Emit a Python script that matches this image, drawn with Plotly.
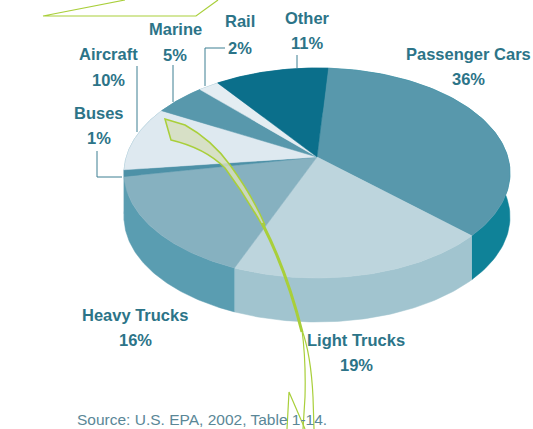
import numpy as np
import plotly.graph_objects as go

# --- data -------------------------------------------------------------
categories = ["Passenger Cars", "Light Trucks", "Heavy Trucks", "Buses",
              "Aircraft", "Marine", "Rail", "Other"]
shares = [36, 19, 16, 1, 10, 5, 2, 11]
source_text = "Source: U.S. EPA, 2002, Table 1-14."

# --- styles -----------------------------------------------------------
top_colors = ["#5898ac", "#bdd5dd", "#86b1c0", "#4d91a7",
              "#dee9f0", "#5898ac", "#e4edf2", "#0b6f8b"]
side_colors = ["#0f8298", "#a1c4cf", "#5a9db1", "#5a9db1",
               "#5a9db1", "#5a9db1", "#5a9db1", "#0b6f8b"]
label_pos = {"Passenger Cars": (468, 54, 79), "Light Trucks": (356, 340, 365),
             "Heavy Trucks": (135, 315, 340), "Buses": (99, 113, 138),
             "Aircraft": (108, 54, 80), "Marine": (175, 29, 55),
             "Rail": (240, 21, 48), "Other": (307, 18, 43)}
TEXT = "#2c7488"
GREEN = "#a9cf3a"
W, H = 533, 429
CX, CY, RX, RY, K, DEPTH, START = 317, 173, 193, 105, -0.152, 44, 3.8


def project(theta_deg):
    """Perspective view of the unit circle; the centre lands above the ellipse centre."""
    t = np.radians(theta_deg)
    u, v = np.sin(t), -np.cos(t)
    den = 1 + K * v
    return CX + RX * u * np.sqrt(1 - K * K) / den, CY + RY * (v + K) / den


apex = (CX, CY + RY * K)
edges = START + np.cumsum([0] + shares) * 3.6
fig = go.Figure()


def poly(x, y, color):
    fig.add_trace(go.Scatter(x=x, y=y, mode="lines", fill="toself", fillcolor=color,
                             line=dict(color=color, width=0.5), hoverinfo="skip",
                             showlegend=False))


# side walls first, tops painted over them
for i in range(len(shares)):
    th = np.linspace(edges[i], edges[i + 1], 80)
    x, y = project(th)
    poly(np.r_[x, x[::-1]], np.r_[y, y[::-1] + DEPTH], side_colors[i])
for i, name in enumerate(categories):
    th = np.linspace(edges[i], edges[i + 1], 80)
    x, y = project(th)
    poly(np.r_[apex[0], x, apex[0]], np.r_[apex[1], y, apex[1]], top_colors[i])

# leader lines
leaders = [([297, 297], [55, 68]), ([173, 173], [65, 102]), ([137, 137], [66, 132]),
           ([205, 205, 225], [86, 48, 48]), ([97, 97, 122], [151, 177, 177])]
for lx, ly in leaders:
    fig.add_trace(go.Scatter(x=lx, y=ly, mode="lines", line=dict(color="#3d7f92", width=1),
                             hoverinfo="skip", showlegend=False))

shapes = [
    # curved arrow head and body
    dict(type="path", layer="above", fillcolor="rgba(214,222,190,0.85)",
         line=dict(color=GREEN, width=1.5),
         path="M165,119 L185,125 Q212,140 230,165 Q252,195 265,225 "
              "Q262,222 262,225 Q245,195 225,168 Q205,148 171,140 Z"),
    dict(type="path", layer="above", line=dict(color=GREEN, width=3),
         path="M263,225 Q287,272 302,332"),
    dict(type="path", layer="above", line=dict(color=GREEN, width=1.2),
         path="M302,330 Q306,360 305,397 L303,429"),
    dict(type="path", layer="above", line=dict(color=GREEN, width=1.2),
         path="M302,330 Q311,355 313,397 L314,429"),
    dict(type="path", layer="above", line=dict(color=GREEN, width=1.2),
         path="M287,429 L289,392 L305,429"),
    dict(type="path", layer="above", line=dict(color=GREEN, width=1.2),
         path="M125,0 L43,16 L196,16 L218,0"),
]

annotations = []
for i, name in enumerate(categories):
    ax, y1, y2 = label_pos[name]
    for txt, yy in ((name, y1), (f"{shares[i]}%", y2)):
        annotations.append(dict(x=ax, y=yy, text=f"<b>{txt}</b>", showarrow=False,
                                font=dict(family="Liberation Sans", size=16.5, color=TEXT),
                                xanchor="center", yanchor="middle"))
annotations.append(dict(x=75, y=419, text=source_text, showarrow=False, xanchor="left",
                        yanchor="middle",
                        font=dict(family="Liberation Sans", size=15.5, color="#5a8797")))

fig.update_layout(width=W, height=H, margin=dict(l=0, r=0, t=0, b=0),
                  paper_bgcolor="white", plot_bgcolor="white", showlegend=False,
                  xaxis=dict(range=[0, W], visible=False, fixedrange=True),
                  yaxis=dict(range=[H, 0], visible=False, fixedrange=True),
                  shapes=shapes, annotations=annotations)
fig.write_html("out.html", config={"displayModeBar": False},
               post_script="document.body.style.margin='0';document.documentElement.style.overflow='hidden';")
